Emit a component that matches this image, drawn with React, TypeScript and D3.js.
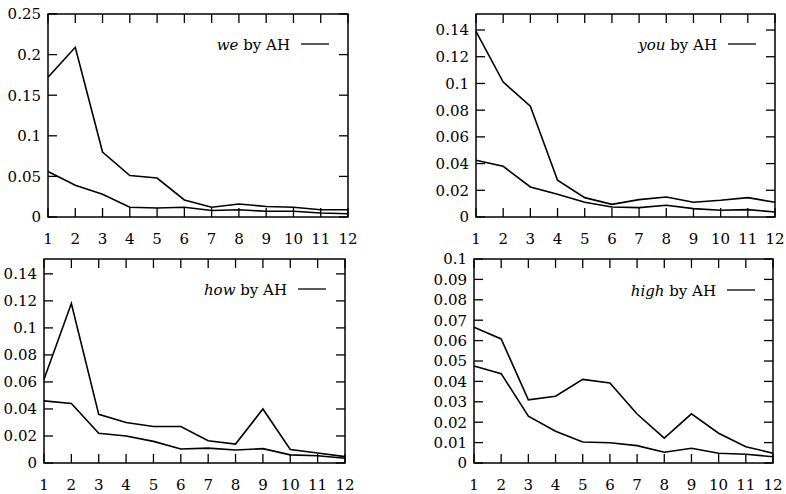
import React from 'react';
import * as d3 from 'd3';

// positions 1..12 along the x axis
const positions = [1, 2, 3, 4, 5, 6, 7, 8, 9, 10, 11, 12];

const weUpper = [0.172, 0.209, 0.080, 0.051, 0.048, 0.021, 0.012, 0.016, 0.013, 0.012, 0.009, 0.009];
const weLower = [0.056, 0.039, 0.028, 0.012, 0.011, 0.012, 0.008, 0.009, 0.007, 0.007, 0.005, 0.004];

const youUpper = [0.139, 0.101, 0.083, 0.0275, 0.0145, 0.0095, 0.013, 0.015, 0.011, 0.0125, 0.0145, 0.011];
const youLower = [0.0425, 0.038, 0.0225, 0.017, 0.011, 0.0075, 0.007, 0.0088, 0.0063, 0.005, 0.0055, 0.0038];

const howUpper = [0.062, 0.118, 0.036, 0.030, 0.027, 0.027, 0.0165, 0.014, 0.040, 0.010, 0.0074, 0.0047];
const howLower = [0.046, 0.044, 0.022, 0.020, 0.016, 0.0104, 0.011, 0.0096, 0.0106, 0.006, 0.0054, 0.0035];

const highUpper = [0.0665, 0.0608, 0.031, 0.0327, 0.041, 0.0392, 0.024, 0.0122, 0.0241, 0.0146, 0.008, 0.0048];
const highLower = [0.0476, 0.0438, 0.023, 0.0156, 0.0103, 0.0099, 0.0085, 0.0053, 0.0072, 0.0048, 0.0043, 0.0031];

const weTicks = [0, 0.05, 0.1, 0.15, 0.2, 0.25];
const youTicks = [0, 0.02, 0.04, 0.06, 0.08, 0.1, 0.12, 0.14];
const howTicks = [0, 0.02, 0.04, 0.06, 0.08, 0.1, 0.12, 0.14];
const highTicks = [0, 0.01, 0.02, 0.03, 0.04, 0.05, 0.06, 0.07, 0.08, 0.09, 0.1];

const FONT = 'DejaVu Serif';

type PanelProps = {
  left: number; right: number; top: number; bottom: number;
  yMax: number; yTicks: number[];
  upper: number[]; lower: number[];
  word: string;
  legendX: number; legendY: number;
};

const fmt = (v: number) => String(+v.toFixed(3));

function Panel(p: PanelProps) {
  const x = d3.scaleLinear().domain([1, 12]).range([p.left, p.right]);
  const y = d3.scaleLinear().domain([0, p.yMax]).range([p.bottom, p.top]);
  const line = d3.line<number>().x((_, i) => x(positions[i])).y(d => y(d));
  const tl = 9;

  return (
    <g>
      {p.yTicks.map(t => (
        <g key={'y' + t}>
          <line x1={p.left} x2={p.left + tl} y1={y(t)} y2={y(t)} stroke="#000" strokeWidth={1.3} />
          <line x1={p.right} x2={p.right - tl} y1={y(t)} y2={y(t)} stroke="#000" strokeWidth={1.3} />
          <text x={p.left - 7} y={y(t)} dy="0.36em" textAnchor="end" fontSize={15} fontFamily={FONT}>{fmt(t)}</text>
        </g>
      ))}
      {positions.map(v => (
        <g key={'x' + v}>
          <line x1={x(v)} x2={x(v)} y1={p.bottom} y2={p.bottom - tl} stroke="#000" strokeWidth={1.3} />
          <line x1={x(v)} x2={x(v)} y1={p.top} y2={p.top + tl} stroke="#000" strokeWidth={1.3} />
          <text x={x(v)} y={p.bottom + 27} textAnchor="middle" fontSize={15} fontFamily={FONT}>{v}</text>
        </g>
      ))}
      <rect x={p.left} y={p.top} width={p.right - p.left} height={p.bottom - p.top} fill="none" stroke="#000" strokeWidth={1.5} />
      <path d={line(p.upper) || ''} fill="none" stroke="#000" strokeWidth={1.6} />
      <path d={line(p.lower) || ''} fill="none" stroke="#000" strokeWidth={1.6} />
      <text x={p.legendX} y={p.legendY + 6} textAnchor="end" fontSize={15} fontFamily={FONT}>
        <tspan fontStyle="italic">{p.word}</tspan> by AH
      </text>
      <line x1={p.legendX + 11} x2={p.legendX + 39} y1={p.legendY} y2={p.legendY} stroke="#000" strokeWidth={1.3} />
    </g>
  );
}

export default function App() {
  return (
    <svg width={786} height={494} style={{ position: 'absolute', left: 0, top: 0, background: '#fff' }}>
      <rect width={786} height={494} fill="#fff" />
      <Panel left={48} right={348} top={14} bottom={217} yMax={0.25} yTicks={weTicks}
        upper={weUpper} lower={weLower} word="we" legendX={290} legendY={44} />
      <Panel left={476} right={775} top={14} bottom={217} yMax={0.152} yTicks={youTicks}
        upper={youUpper} lower={youLower} word="you" legendX={717} legendY={44} />
      <Panel left={44} right={345} top={259} bottom={463} yMax={0.151} yTicks={howTicks}
        upper={howUpper} lower={howLower} word="how" legendX={287} legendY={289} />
      <Panel left={474} right={773} top={259} bottom={463} yMax={0.1} yTicks={highTicks}
        upper={highUpper} lower={highLower} word="high" legendX={716} legendY={290} />
    </svg>
  );
}
